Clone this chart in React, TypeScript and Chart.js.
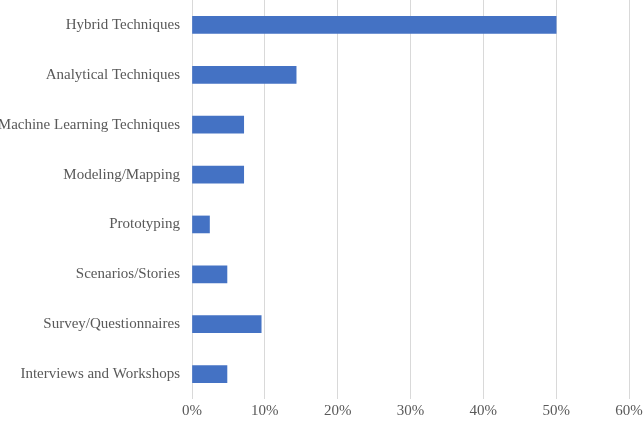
import React, { useEffect, useRef } from "react";
import { Chart, registerables } from "chart.js";

Chart.register(...registerables);

const categories = [
  "Hybrid Techniques",
  "Analytical Techniques",
  "Machine Learning Techniques",
  "Modeling/Mapping",
  "Prototyping",
  "Scenarios/Stories",
  "Survey/Questionnaires",
  "Interviews and Workshops",
];
const shares = [50, 14.3, 7.1, 7.1, 2.4, 4.8, 9.5, 4.8];
const xMax = 60;
const xStep = 10;

export default function App() {
  const ref = useRef<HTMLCanvasElement>(null);
  useEffect(() => {
    if (!ref.current) return;
    const font = { family: "'Liberation Serif', 'Times New Roman', serif", size: 15 };
    const chart = new Chart(ref.current, {
      type: "bar",
      data: {
        labels: categories,
        datasets: [
          {
            data: shares,
            backgroundColor: "#4472C4",
            borderWidth: 0,
            barThickness: 17,
          },
        ],
      },
      options: {
        indexAxis: "y",
        animation: false,
        responsive: false,
        maintainAspectRatio: false,
        layout: { padding: 0 },
        plugins: { legend: { display: false }, tooltip: { enabled: false } },
        scales: {
          x: {
            min: 0,
            max: xMax,
            ticks: {
              stepSize: xStep,
              color: "#595959",
              font,
              padding: 3,
              maxRotation: 0,
              callback: (v: any) => v + "%",
            },
            grid: { color: "#d9d9d9", drawTicks: false, lineWidth: 1 },
            border: { display: false },
            afterFit: (s: any) => {
              s.height = 24;
              s.paddingLeft = 0;
              s.paddingRight = 14;
              s.paddingTop = 0;
              s.paddingBottom = 0;
            },
          },
          y: {
            ticks: { color: "#595959", font, padding: 12 },
            grid: { display: false, drawTicks: false },
            border: { display: false },
            afterFit: (s: any) => {
              s.width = 192;
              s.paddingTop = 0;
              s.paddingBottom = 0;
              s.paddingLeft = 0;
              s.paddingRight = 0;
            },
          },
        },
      },
    });
    return () => chart.destroy();
  }, []);
  return (
    <div style={{ position: "fixed", left: 0, top: 0, width: 643, height: 423, background: "#fff" }}>
      <canvas ref={ref} width={643} height={423} style={{ display: "block" }} />
    </div>
  );
}
